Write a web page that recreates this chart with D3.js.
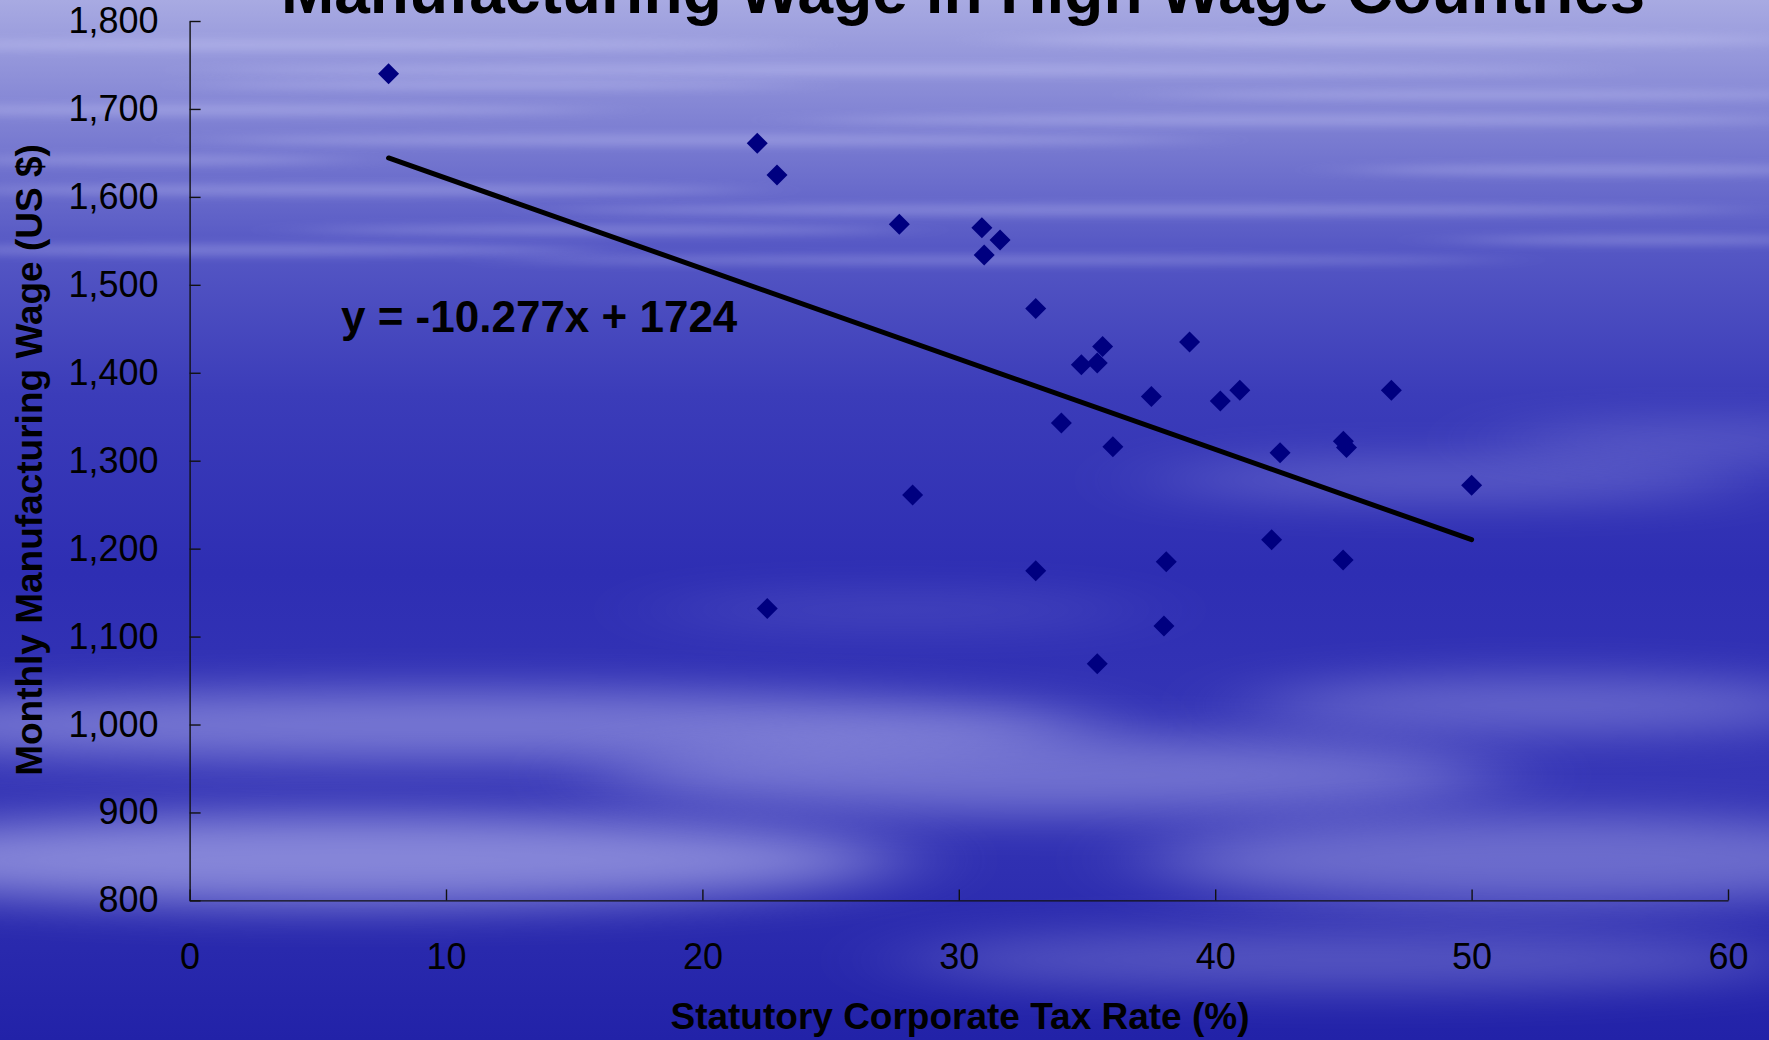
<!DOCTYPE html>
<html>
<head>
<meta charset="utf-8">
<script src="https://cdn.jsdelivr.net/npm/d3@7"></script>
<style>
  body { margin: 0; overflow: hidden; }
  text { font-family: "Liberation Sans", Arial, sans-serif; }
</style>
</head>
<body>
<script>
// tax rate (%) vs monthly manufacturing wage (US $)
const taxRate = [7.76, 22.14, 22.91, 27.68, 30.90, 31.61, 30.99, 33.0, 35.61, 34.78,
                 35.40, 39.0, 37.51, 40.2, 40.96, 46.87, 34.0, 36.01, 42.53, 45.0,
                 45.12, 50.0, 42.2, 38.09, 33.0, 44.99, 38.0, 35.4, 22.53, 28.2];
const wage = [1740, 1661, 1625, 1569, 1565, 1551, 1534, 1473, 1430, 1409,
              1411, 1435, 1373, 1368, 1380, 1380, 1343, 1316, 1309, 1322,
              1315, 1272, 1210, 1185, 1175, 1187, 1112, 1069, 1132, 1261];
const xTicks = [0, 10, 20, 30, 40, 50, 60];
const yTicks = [800, 900, 1000, 1100, 1200, 1300, 1400, 1500, 1600, 1700, 1800];
const slope = -10.277;
const intercept = 1724;

const titre = "Manufacturing Wage in High Wage Countries";
const xTitre = "Statutory Corporate Tax Rate (%)";
const yTitre = "Monthly Manufacturing Wage (US $)";

const largeur = 1769;
const hauteur = 1040;

let canevas = d3.select("body")
    .append("svg")
    .attr("width", largeur)
    .attr("height", hauteur);

// fond : dégradé bleu + nuages
const defs = canevas.append("defs");
const grad = defs.append("linearGradient")
    .attr("id", "fond")
    .attr("x1", 0).attr("y1", 0).attr("x2", 0).attr("y2", 1);
[[0, "#a8aae2"], [0.1, "#8587d5"], [0.24, "#5557c4"], [0.38, "#3b3cb9"],
 [0.55, "#2e2eb3"], [0.75, "#3636b6"], [1, "#2222a8"]]
    .forEach(s => grad.append("stop").attr("offset", s[0]).attr("stop-color", s[1]));

defs.append("filter").attr("id", "flou")
    .attr("x", "-50%").attr("y", "-200%").attr("width", "200%").attr("height", "500%")
    .append("feGaussianBlur").attr("stdDeviation", "55 20");
defs.append("filter").attr("id", "flou2")
    .attr("x", "-50%").attr("y", "-200%").attr("width", "200%").attr("height", "500%")
    .append("feGaussianBlur").attr("stdDeviation", "40 5");

canevas.append("rect")
    .attr("width", largeur).attr("height", hauteur)
    .attr("fill", "url(#fond)");

const nuages = canevas.append("g").attr("fill", "#dcdcff");
// traînées fines en haut
[[300, 45, 500, 5], [900, 70, 700, 5], [1400, 40, 400, 6], [200, 110, 400, 5],
 [700, 140, 500, 5], [1300, 120, 500, 5], [350, 190, 400, 5], [1150, 210, 600, 5],
 [250, 250, 350, 5], [1000, 260, 500, 4], [1600, 170, 250, 5], [600, 230, 300, 4],
 [1500, 95, 350, 4], [500, 85, 300, 4], [1650, 240, 200, 4], [150, 160, 200, 4]]
    .forEach(n => nuages.append("ellipse")
        .attr("cx", n[0]).attr("cy", n[1]).attr("rx", n[2]).attr("ry", n[3])
        .attr("opacity", 0.3).attr("filter", "url(#flou2)"));
// grandes bandes en bas
[[450, 725, 650, 35, 0.4], [350, 860, 550, 45, 0.5], [1050, 775, 450, 40, 0.35],
 [1550, 705, 300, 28, 0.3], [1450, 480, 300, 20, 0.25], [1550, 860, 400, 45, 0.35],
 [1350, 960, 450, 30, 0.25], [900, 610, 250, 15, 0.15], [1700, 440, 200, 15, 0.25]]
    .forEach(n => nuages.append("ellipse")
        .attr("cx", n[0]).attr("cy", n[1]).attr("rx", n[2]).attr("ry", n[3])
        .attr("opacity", n[4]).attr("filter", "url(#flou)"));

// échelles
const x = d3.scaleLinear().domain([0, 60]).range([189.6, 1728]);
const y = d3.scaleLinear().domain([800, 1800]).range([900.4, 21]);

// axes
canevas.append("g")
    .attr("transform", "translate(0," + y(800) + ")")
    .call(d3.axisBottom(x).tickValues(xTicks).tickSize(-11).tickSizeOuter(0).tickPadding(43))
    .call(g => g.selectAll("text").style("font-size", "36px").attr("fill", "#000"))
    .call(g => g.selectAll("line, path").attr("stroke", "#111").attr("stroke-width", 1.4));

canevas.append("g")
    .attr("transform", "translate(" + x(0) + ",0)")
    .call(d3.axisLeft(y).tickValues(yTicks).tickSize(-11).tickSizeOuter(0).tickPadding(31)
        .tickFormat(d3.format(",")))
    .call(g => g.selectAll("text").style("font-size", "36px").attr("fill", "#000"))
    .call(g => g.selectAll("line, path").attr("stroke", "#111").attr("stroke-width", 1.4));

// droite de régression
const xMin = d3.min(taxRate), xMax = d3.max(taxRate);
canevas.append("line")
    .attr("x1", x(xMin)).attr("y1", y(slope * xMin + intercept))
    .attr("x2", x(xMax)).attr("y2", y(slope * xMax + intercept))
    .attr("stroke", "#000").attr("stroke-width", 5).attr("stroke-linecap", "round");

// points
canevas.selectAll("path.pt")
    .data(d3.zip(taxRate, wage))
    .enter().append("path")
    .attr("class", "pt")
    .attr("d", "M0,-10.5L10.5,0L0,10.5L-10.5,0Z")
    .attr("transform", d => "translate(" + x(d[0]) + "," + y(d[1]) + ")")
    .attr("fill", "#000080");

// textes
canevas.append("text")
    .attr("x", 341).attr("y", 332)
    .style("font-size", "44px").style("font-weight", "bold")
    .text("y = " + slope + "x + " + intercept);

canevas.append("text")
    .attr("x", 963).attr("y", 13)
    .attr("text-anchor", "middle")
    .style("font-size", "64px").style("font-weight", "bold")
    .text(titre);

canevas.append("text")
    .attr("x", 960).attr("y", 1029)
    .attr("text-anchor", "middle")
    .style("font-size", "37px").style("font-weight", "bold")
    .text(xTitre);

canevas.append("text")
    .attr("transform", "translate(42,460) rotate(-90)")
    .attr("text-anchor", "middle")
    .style("font-size", "37px").style("font-weight", "bold")
    .text(yTitre);
</script>
</body>
</html>
